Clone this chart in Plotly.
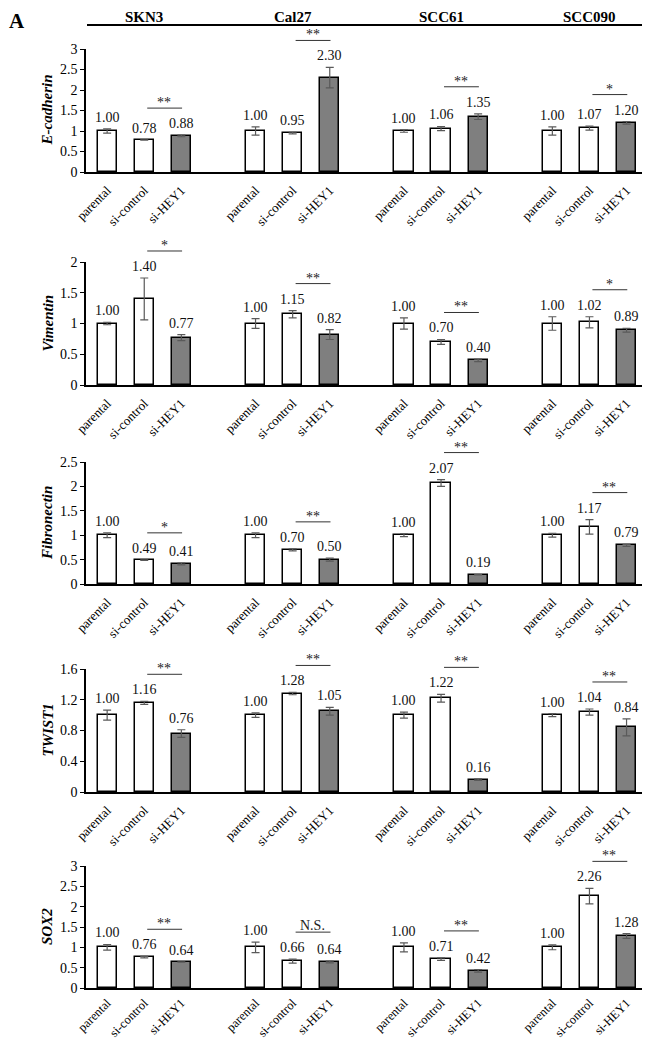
import plotly.graph_objects as go

# ---------------- data ----------------
cell_lines = ["SKN3", "Cal27", "SCC61", "SCC090"]
conditions = ["parental", "si-control", "si-HEY1"]
genes = ["E-cadherin", "Vimentin", "Fibronectin", "TWIST1", "SOX2"]

ecad_vals = [1.00, 0.78, 0.88, 1.00, 0.95, 2.30, 1.00, 1.06, 1.35, 1.00, 1.07, 1.20]
ecad_err = [0.05, 0.005, 0.02, 0.10, 0.02, 0.25, 0.03, 0.05, 0.07, 0.10, 0.05, 0.03]
ecad_sig = ["**", "**", "**", "*"]

vim_vals = [1.00, 1.40, 0.77, 1.00, 1.15, 0.82, 1.00, 0.70, 0.40, 1.00, 1.02, 0.89]
vim_err = [0.02, 0.34, 0.05, 0.08, 0.06, 0.08, 0.09, 0.04, 0.02, 0.11, 0.09, 0.03]
vim_sig = ["*", "**", "**", "*"]

fib_vals = [1.00, 0.49, 0.41, 1.00, 0.70, 0.50, 1.00, 2.07, 0.19, 1.00, 1.17, 0.79]
fib_err = [0.05, 0.005, 0.02, 0.05, 0.02, 0.03, 0.03, 0.07, 0.005, 0.04, 0.15, 0.02]
fib_sig = ["*", "**", "**", "**"]

twist_vals = [1.00, 1.16, 0.76, 1.00, 1.28, 1.05, 1.00, 1.22, 0.16, 1.00, 1.04, 0.84]
twist_err = [0.065, 0.02, 0.05, 0.03, 0.015, 0.05, 0.04, 0.05, 0.01, 0.02, 0.04, 0.11]
twist_sig = ["**", "**", "**", "**"]

sox2_vals = [1.00, 0.76, 0.64, 1.00, 0.66, 0.64, 1.00, 0.71, 0.42, 1.00, 2.26, 1.28]
sox2_err = [0.07, 0.02, 0.005, 0.13, 0.05, 0.02, 0.11, 0.03, 0.03, 0.06, 0.19, 0.06]
sox2_sig = ["**", "N.S.", "**", "**"]

y_max = [3, 2, 2.5, 1.6, 3]
y_dtick = [0.5, 0.5, 0.5, 0.4, 0.5]

# ---------------- layout constants ----------------
OFF = 8                      # page body margin
W, H = 650 - 2 * OFF, 1050 - 2 * OFF
FONT = "Liberation Serif"
rows_px = [(49, 172), (262, 385), (462, 584), (669, 792), (866, 988)]  # screen px
x_left, x_right = 86, 642
PX_PER_SLOT = 37.1
x_range = [-0.57, -0.57 + (x_right - x_left) / PX_PER_SLOT]

all_vals = [ecad_vals, vim_vals, fib_vals, twist_vals, sox2_vals]
all_err = [ecad_err, vim_err, fib_err, twist_err, sox2_err]
all_sig = [ecad_sig, vim_sig, fib_sig, twist_sig, sox2_sig]

xpos = [g * 4 + k for g in range(len(cell_lines)) for k in range(len(conditions))]
xlabels = [c for _ in cell_lines for c in conditions]
bar_colors = ["white", "white", "#7f7f7f"] * len(cell_lines)


def px_x(p):
    return (p - OFF) / W


def px_y(p):
    return 1 - (p - OFF) / H


def to_paper(r, value):
    top_px, bot_px = rows_px[r]
    ppu = (bot_px - top_px) / y_max[r]
    return px_y(bot_px - value * ppu)


fig = go.Figure()
annotations = []
shapes = []

for r in range(5):
    n = "" if r == 0 else str(r + 1)
    xa, ya = "x" + n, "y" + n
    vals, errs, sigs = all_vals[r], all_err[r], all_sig[r]
    top_px, bot_px = rows_px[r]
    last = r == 4

    fig.add_trace(go.Bar(
        x=xpos, y=vals, width=0.52,
        marker=dict(color=bar_colors, line=dict(color="black", width=1.5)),
        error_y=dict(type="data", array=errs, color="#5a5a5a", thickness=1.2, width=4),
        xaxis=xa, yaxis=ya, showlegend=False, hoverinfo="skip",
    ))

    fig.layout["xaxis" + n] = dict(
        domain=[px_x(x_left), px_x(x_right)], range=x_range, anchor=ya,
        tickmode="array", tickvals=xpos, ticktext=xlabels, tickangle=-45,
        tickfont=dict(family=FONT, size=12.5 if last else 13, color="black"),
        ticklabelstandoff=1 if last else 4,
        showline=True, linecolor="black", linewidth=1.5, ticks="",
        showgrid=False, zeroline=False, fixedrange=True, automargin=False,
    )
    fig.layout["yaxis" + n] = dict(
        domain=[px_y(bot_px), px_y(top_px)], range=[0, y_max[r]], anchor=xa,
        dtick=y_dtick[r], tick0=0,
        tickfont=dict(family=FONT, size=14, color="black"),
        showline=True, linecolor="black", linewidth=1.5, ticks="outside",
        ticklen=4, tickcolor="black", tickwidth=1.2,
        showgrid=False, zeroline=False, fixedrange=True, automargin=False,
    )

    # value labels
    for i, (v, e) in enumerate(zip(vals, errs)):
        annotations.append(dict(
            x=xpos[i], y=to_paper(r, v + e), xref=xa, yref="paper", text=f"{v:.2f}",
            showarrow=False, yanchor="bottom", yshift=2,
            font=dict(family=FONT, size=14, color="#111"),
        ))

    # significance lines
    for g, s in enumerate(sigs):
        ic, ih = g * 3 + 1, g * 3 + 2
        top = max(vals[ic] + errs[ic], vals[ih] + errs[ih])
        ly = to_paper(r, top) + 27 / H
        shapes.append(dict(
            type="line", xref=xa, yref="paper",
            x0=xpos[ic] + 0.08, x1=xpos[ih] + 0.02, y0=ly, y1=ly,
            line=dict(color="#333", width=1),
        ))
        annotations.append(dict(
            x=(xpos[ic] + xpos[ih]) / 2 + 0.04, y=ly, xref=xa, yref="paper", text=s,
            showarrow=False, yanchor="bottom", yshift=-4 if s != "N.S." else -3,
            font=dict(family=FONT, size=14, color="#222"),
        ))

    # y axis title
    annotations.append(dict(
        x=px_x(47), y=px_y((top_px + bot_px) / 2), xref="paper", yref="paper",
        text=f"<b><i>{genes[r]}</i></b>", textangle=-90, showarrow=False,
        xanchor="center", yanchor="middle",
        font=dict(family=FONT, size=15, color="black"),
    ))

# headers
for g, name in enumerate(cell_lines):
    annotations.append(dict(
        x=xpos[g * 3 + 1], y=px_y(8), xref="x", yref="paper",
        text=f"<b>{name}</b>", showarrow=False, xanchor="center", yanchor="top",
        borderpad=0, font=dict(family=FONT, size=15, color="black"),
    ))
shapes.append(dict(
    type="line", xref="paper", yref="paper",
    x0=px_x(87), x1=px_x(x_right), y0=px_y(25), y1=px_y(25),
    line=dict(color="black", width=2),
))
annotations.append(dict(
    x=px_x(8), y=px_y(8), xref="paper", yref="paper", text="<b>A</b>",
    showarrow=False, xanchor="left", yanchor="top", borderpad=0,
    font=dict(family=FONT, size=21, color="black"),
))

fig.update_layout(
    template="none",
    width=W, height=H, margin=dict(l=0, r=0, t=0, b=0, autoexpand=False),
    paper_bgcolor="white", plot_bgcolor="white",
    annotations=annotations, shapes=shapes, bargap=0,
)
fig.write_html("out.html")
